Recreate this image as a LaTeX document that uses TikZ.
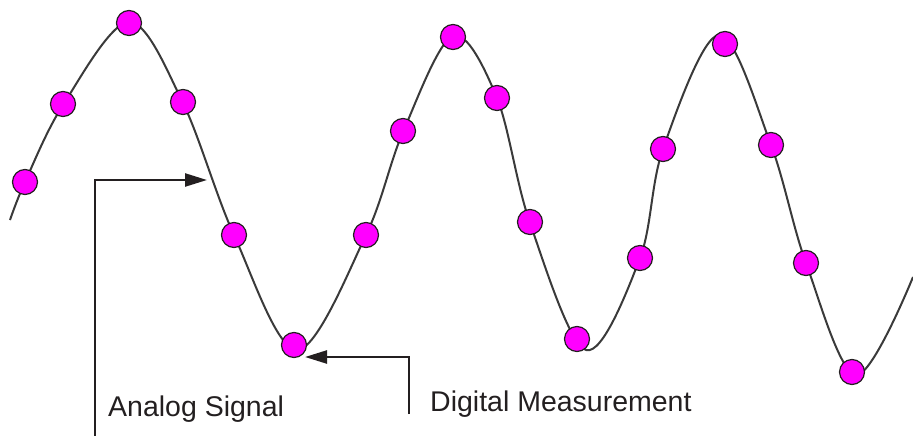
\documentclass[tikz,border=0pt]{standalone}
\usepackage{fontspec}
\setmainfont{Liberation Sans}
\usetikzlibrary{arrows.meta}
\definecolor{ink}{HTML}{231F20}
\definecolor{wavec}{HTML}{3A3A3A}
\definecolor{dotfill}{HTML}{FF00FF}
\begin{document}
\begin{tikzpicture}[x=1pt,y=-1pt,
  wave/.style={draw=wavec,line width=2pt},
  sampledot/.style={circle,draw=ink,line width=1.2pt,fill=dotfill,minimum size=25pt,inner sep=0pt},
  pointer/.style={draw=ink,line width=2.4pt,-{Triangle[length=22pt,width=13pt]}},
  txt/.style={font=\fontsize{28.5}{30}\selectfont,text=ink,anchor=base west,inner sep=0pt}]
\useasboundingbox (0,0) rectangle (913,436);
% analog signal
\draw[wave] plot[smooth,tension=0.55] coordinates {
  (10,220) (25,182) (63,105) (129,22) (183,103) (234,235)
  (297,350) (366,235) (403,132) (453,36) (497,98) (530,223)
  (586,350) (640,258) (663,149) (719,35) (771,145) (806,263)
  (856,375) (913,277)};
% samples
\node[sampledot] (d1)  at (25,182) {};
\node[sampledot] (d2)  at (63,104) {};
\node[sampledot] (d3)  at (129,23) {};
\node[sampledot] (d4)  at (183,102) {};
\node[sampledot] (d5)  at (234,235) {};
\node[sampledot] (d6)  at (294,345) {};
\node[sampledot] (d7)  at (366,235) {};
\node[sampledot] (d8)  at (403,131) {};
\node[sampledot] (d9)  at (453,37) {};
\node[sampledot] (d10) at (497,98) {};
\node[sampledot] (d11) at (530,222) {};
\node[sampledot] (d12) at (577,339) {};
\node[sampledot] (d13) at (640,258) {};
\node[sampledot] (d14) at (663,149) {};
\node[sampledot] (d15) at (725,44) {};
\node[sampledot] (d16) at (771,145) {};
\node[sampledot] (d17) at (806,263) {};
\node[sampledot] (d18) at (852,372) {};
% labels
\node[txt] (analog) at (108,416) {Analog Signal};
\node[txt] (digital) at (430,411) {Digital Measurement};
% pointers
\coordinate (abase) at (95,436);
\coordinate (atip) at (207,180);
\coordinate (dbase) at (409,414);
\coordinate (dtip) at (305,357);
\draw[pointer] (abase) |- (atip);
\draw[pointer] (dbase) |- (dtip);
\end{tikzpicture}
\end{document}
